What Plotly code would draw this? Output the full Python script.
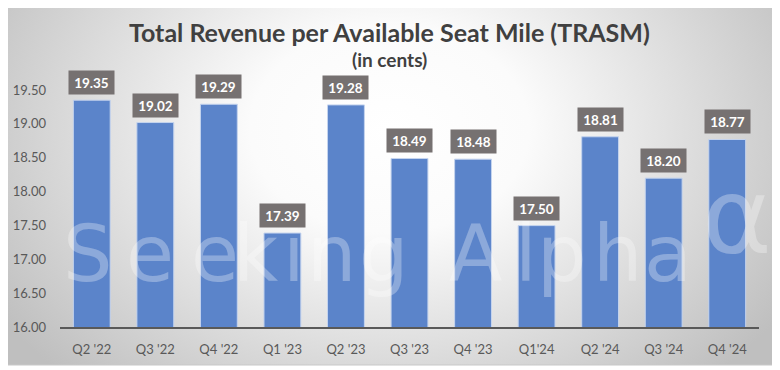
import base64
import plotly.graph_objects as go

categories = ["Q2 '22", "Q3 '22", "Q4 '22", "Q1 '23", "Q2 '23", "Q3 '23",
              "Q4 '23", "Q1'24", "Q2 '24", "Q3 '24", "Q4 '24"]
trasm = [19.35, 19.02, 19.29, 17.39, 19.28, 18.49, 18.48, 17.50, 18.81, 18.20, 18.77]
y_ticks = [16.0, 16.5, 17.0, 17.5, 18.0, 18.5, 19.0, 19.5]

# watermark letters
wm_letters = ["S", "e", "e", "k", "i", "n", "g", "A", "l", "p", "h", "a"]

# page has an 8px body margin; figure is sized so it fits exactly in the window
OFF = 8
W, H = 780 - OFF, 370 - OFF
FONT = "Lato"


def px(x):
    return (x - OFF) / W


def py(y):
    return 1 - (y - OFF) / H


svg = (
    '<svg xmlns="http://www.w3.org/2000/svg" width="775" height="363" '
    'viewBox="0 0 1 1" preserveAspectRatio="none">'
    '<defs><radialGradient id="g" cx="0.5" cy="0.35" r="1" '
    'gradientTransform="translate(0.5,0.35) scale(0.6,0.95) translate(-0.5,-0.35)">'
    '<stop offset="0" stop-color="#ffffff"/>'
    '<stop offset="0.3" stop-color="#fbfbfb"/>'
    '<stop offset="1" stop-color="#bfbfbf"/>'
    '</radialGradient></defs>'
    '<rect x="0" y="0" width="1" height="1" fill="url(#g)"/></svg>'
)
bg_src = "data:image/svg+xml;base64," + base64.b64encode(svg.encode()).decode()

fig = go.Figure()
fig.add_trace(go.Bar(
    x=categories, y=trasm,
    marker=dict(color="#5b84ca", line=dict(color="#c5d4ee", width=1)),
    hoverinfo="x+y",
))

WM = "rgba(255,255,255,0.3)"
wm_centers = [88, 150, 215, 255, 294, 331, 384, 475, 526, 562, 617, 668]
annotations = []
for ch, cx in zip(wm_letters, wm_centers):
    annotations.append(dict(
        text=ch, xref="paper", yref="paper",
        x=px(cx), y=py(254), xanchor="center", yanchor="middle",
        showarrow=False, font=dict(family="DejaVu Sans", size=78, color=WM),
    ))
annotations.append(dict(
    text="α", xref="paper", yref="paper",
    x=px(700), y=py(216), xanchor="left", yanchor="middle",
    showarrow=False, font=dict(family="DejaVu Sans", size=106, color=WM),
))
# titles
annotations.append(dict(
    text="<b>Total Revenue per Available Seat Mile (TRASM)</b>", xref="paper", yref="paper",
    x=px(389), y=py(32), xanchor="center", yanchor="middle", showarrow=False,
    font=dict(family=FONT, size=25, color="#404040"),
))
annotations.append(dict(
    text="<b>(in cents)</b>", xref="paper", yref="paper",
    x=px(389), y=py(60), xanchor="center", yanchor="middle", showarrow=False,
    font=dict(family=FONT, size=19, color="#404040"),
))
# data labels
for c, v in zip(categories, trasm):
    annotations.append(dict(
        text=f"<b>{v:.2f}</b>", x=c, y=v, xref="x", yref="y",
        xanchor="center", yanchor="bottom", yshift=5, showarrow=False,
        bgcolor="#767171", borderpad=0, width=45, height=23,
        font=dict(family=FONT, size=13.5, color="#ffffff"),
    ))

fig.update_layout(
    width=W, height=H,
    margin=dict(l=0, r=0, t=0, b=0, autoexpand=False),
    paper_bgcolor="#ffffff",
    plot_bgcolor="rgba(0,0,0,0)",
    bargap=0.42,
    showlegend=False,
    font=dict(family=FONT, color="#595959"),
    annotations=annotations,
    images=[dict(
        source=bg_src, xref="paper", yref="paper",
        x=px(2), y=py(2), sizex=px(777) - px(2), sizey=py(2) - py(365),
        xanchor="left", yanchor="top", sizing="stretch", layer="below",
    )],
    shapes=[dict(
        type="rect", xref="paper", yref="paper",
        x0=px(2), x1=px(777), y0=py(365), y1=py(2),
        line=dict(color="#c8c8c8", width=1), fillcolor="rgba(0,0,0,0)", layer="below",
    )],
    xaxis=dict(
        domain=[px(60), px(759)], automargin=False,
        showline=True, linecolor="#595959", linewidth=1.5,
        ticks="", showgrid=False, zeroline=False,
        tickfont=dict(family=FONT, size=13, color="#595959"),
        ticklabelstandoff=9,
    ),
    yaxis=dict(
        domain=[py(327.3), py(90)], automargin=False,
        range=[16, 19.5], tickvals=y_ticks, tickformat=".2f",
        showgrid=False, zeroline=False, showline=False, ticks="",
        tickfont=dict(family=FONT, size=13, color="#595959"),
        ticklabelstandoff=13,
    ),
)

fig.write_html("out.html")
